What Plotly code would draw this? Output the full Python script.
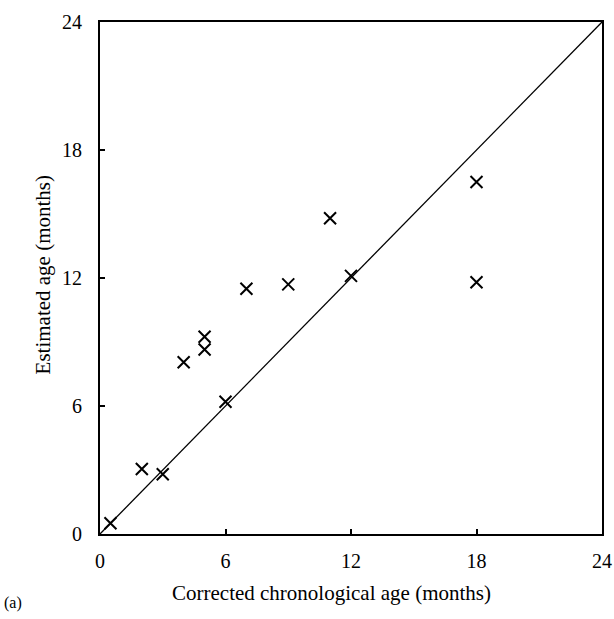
import plotly.graph_objects as go

# Data (months)
corrected_age = [0.5, 2, 3, 4, 5, 5, 6, 7, 9, 11, 12, 18, 18]
estimated_age = [0.5, 3.05, 2.8, 8.05, 8.65, 9.25, 6.2, 11.5, 11.7, 14.8, 12.1, 16.5, 11.8]
identity_x = [0, 24]
identity_y = [0, 24]
tick_vals = [0, 6, 12, 18, 24]

FONT = "Liberation Serif"

fig = go.Figure()
fig.add_trace(go.Scatter(x=identity_x, y=identity_y, mode="lines",
                         line=dict(color="black", width=1.3), showlegend=False,
                         hoverinfo="skip"))
fig.add_trace(go.Scatter(x=corrected_age, y=estimated_age, mode="markers",
                         marker=dict(symbol="x-thin", size=12,
                                     line=dict(color="black", width=2)),
                         showlegend=False))

axis_common = dict(range=[0, 24], tickvals=tick_vals, showgrid=False, zeroline=False,
                   showline=True, linecolor="black", linewidth=2, mirror=True,
                   ticks="inside", ticklen=5, tickwidth=1.5, tickcolor="black",
                   automargin=False,
                   tickfont=dict(family=FONT, size=20, color="black"))

fig.update_xaxes(**axis_common, ticklabelstandoff=8)
fig.update_yaxes(**axis_common, ticklabelstandoff=12)

fig.add_annotation(text="Corrected chronological age (months)", xref="paper", yref="paper",
                   x=0.462, y=0, xanchor="center", yanchor="middle", yshift=-59,
                   showarrow=False, font=dict(family=FONT, size=21, color="black"))
fig.add_annotation(text="Estimated age (months)", xref="paper", yref="paper",
                   x=0, y=0.505, xanchor="center", yanchor="middle", xshift=-57,
                   textangle=-90, showarrow=False,
                   font=dict(family=FONT, size=21, color="black"))
fig.add_annotation(text="(a)", xref="paper", yref="paper",
                   x=0, y=0, xanchor="left", yanchor="middle", xshift=-98, yshift=-69,
                   showarrow=False, font=dict(family=FONT, size=16, color="black"))

fig.update_layout(width=614, height=619, margin=dict(l=100, r=12, t=22, b=85),
                  plot_bgcolor="white", paper_bgcolor="white")

fig.write_html("out.html")
